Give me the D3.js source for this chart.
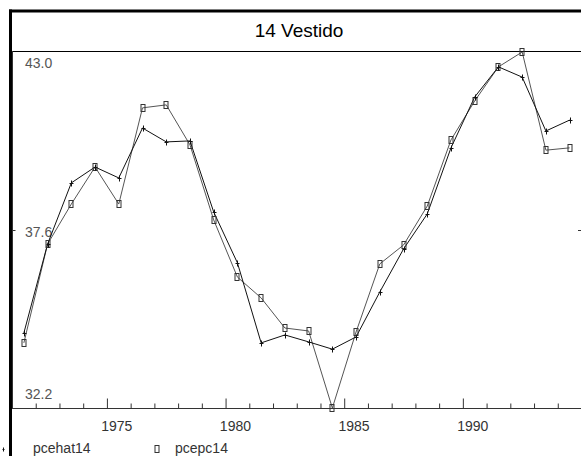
<!DOCTYPE html>
<html>
  <head>
	<meta charset="utf-8">
	<script src="https://d3js.org/d3.v7.min.js"></script>
	<style>
	  body { margin: 0; background: #fff; }
	  text { font-family: "Liberation Sans", Arial, sans-serif; }
	</style>
  </head>

<body>
	<div id="chart"></div>
  <script>
	// values
	var years = [1971, 1972, 1973, 1974, 1975, 1976, 1977, 1978, 1979, 1980, 1981, 1982,
	             1983, 1984, 1985, 1986, 1987, 1988, 1989, 1990, 1991, 1992, 1993, 1994];
	var pcehat14 = [34.47, 37.16, 39.01, 39.49, 39.16, 40.67, 40.25, 40.28, 38.13, 36.59, 34.17, 34.41,
	                34.20, 33.98, 34.35, 35.71, 37.01, 38.07, 40.07, 41.61, 42.52, 42.21, 40.58, 40.91];
	var pcepc14 = [34.17, 37.16, 38.37, 39.49, 38.37, 41.28, 41.37, 40.16, 37.89, 36.16, 35.53, 34.62,
	               34.53, 32.20, 34.50, 36.56, 37.13, 38.31, 40.31, 41.49, 42.52, 42.97, 40.00, 40.07];
	var yTicks = [32.2, 37.6, 43.0];
	var xTickLabels = [1975, 1980, 1985, 1990];
	var title = "14 Vestido";

	var W = 581, H = 456;
	var plot = {left: 12, top: 51, right: 582, bottom: 408};

	var svg = d3.select("#chart")
		.append("svg")
			.attr("width", W)
			.attr("height", H);

	var x = d3.scaleLinear()
		.domain([1971, 1995])
		.range([plot.left, plot.right - 0.5]);

	var y = d3.scaleLinear()
		.domain([32.2, 43.0])
		.range([plot.bottom, plot.top]);

	// outer heavy frame
	svg.append("line")
		.attr("x1", 9).attr("x2", W).attr("y1", 11).attr("y2", 11)
		.attr("stroke", "#000").attr("stroke-width", 3);
	svg.append("line")
		.attr("x1", 10.5).attr("x2", 10.5).attr("y1", 9.5).attr("y2", H)
		.attr("stroke", "#000").attr("stroke-width", 3);

	svg.append("text")
		.attr("x", 299).attr("y", 37)
		.attr("text-anchor", "middle")
		.attr("font-size", 19)
		.attr("fill", "#000")
		.text(title);

	// plot frame
	svg.append("line")
		.attr("x1", plot.left).attr("x2", W).attr("y1", plot.top + 0.5).attr("y2", plot.top + 0.5)
		.attr("stroke", "#000");
	svg.append("line")
		.attr("x1", plot.left + 0.5).attr("x2", plot.left + 0.5).attr("y1", plot.top).attr("y2", plot.bottom + 1)
		.attr("stroke", "#333");

	// x axis: ticks pointing up, every year, longer every 5
	var xAxis = d3.axisTop(x)
		.tickValues(d3.range(1972, 1995))
		.tickSize(5)
		.tickFormat("");
	var gx = svg.append("g")
		.attr("transform", "translate(0," + (plot.bottom + 0.5) + ")")
		.call(xAxis);
	gx.select(".domain").attr("stroke", "#333").attr("d", "M" + plot.left + ",0H" + W);
	gx.selectAll(".tick line")
		.attr("stroke", "#333")
		.attr("y2", function(d) { return d % 5 === 0 ? -10 : -5; });

	svg.selectAll(".xlab")
		.data(xTickLabels)
		.enter().append("text")
			.attr("class", "xlab")
			.attr("x", function(d) { return x(d + 0.5) - 2; })
			.attr("y", 431)
			.attr("text-anchor", "middle")
			.attr("font-size", 14)
			.attr("fill", "#333")
			.text(function(d) { return d; });

	// y ticks and labels (labels sit inside the plot)
	var yAxis = d3.axisRight(y).tickValues([37.6]).tickSize(3).tickFormat("");
	var gy = svg.append("g")
		.attr("transform", "translate(" + (plot.left + 0.5) + ",0.5)")
		.call(yAxis);
	gy.select(".domain").remove();
	gy.selectAll(".tick line").attr("stroke", "#333");
	var gyr = svg.append("g")
		.attr("transform", "translate(" + (W + 1) + ",0.5)")
		.call(d3.axisLeft(y).tickValues([37.6]).tickSize(4).tickFormat(""));
	gyr.select(".domain").remove();
	gyr.selectAll(".tick line").attr("stroke", "#333");

	var labelBase = {"32.2": -9, "37.6": 7, "43.0": 17};
	svg.selectAll(".ylab")
		.data(yTicks)
		.enter().append("text")
			.attr("class", "ylab")
			.attr("x", 25)
			.attr("y", function(d) { return y(d) + labelBase[d.toFixed(1)]; })
			.attr("font-size", 14)
			.attr("fill", "#555")
			.text(function(d) { return d.toFixed(1); });

	var hat = years.map(function(t, i) { return {year: t, v: pcehat14[i]}; });
	var pc = years.map(function(t, i) { return {year: t, v: pcepc14[i]}; });

	var line = d3.line()
		.x(function(d) { return x(d.year + 0.5); })
		.y(function(d) { return y(d.v); });

	svg.append("path")
		.datum(pc)
		.attr("fill", "none")
		.attr("stroke", "#555")
		.attr("stroke-width", 1)
		.attr("d", line);

	svg.append("path")
		.datum(hat)
		.attr("fill", "none")
		.attr("stroke", "#111")
		.attr("stroke-width", 1)
		.attr("d", line);

	// markers
	svg.selectAll(".sq")
		.data(pc)
		.enter().append("rect")
			.attr("class", "sq")
			.attr("x", function(d) { return Math.round(x(d.year + 0.5)) - 2; })
			.attr("y", function(d) { return Math.round(y(d.v)) - 3.5; })
			.attr("width", 4).attr("height", 7)
			.attr("fill", "none")
			.attr("stroke", "#333");

	var plus = function(sel, size) {
		sel.append("path")
			.attr("fill", "none")
			.attr("stroke", "#111")
			.attr("d", function(d) {
				var cx = Math.round(d.px) + 0.5, cy = Math.round(d.py) + 0.5;
				return "M" + (cx - size) + "," + cy + "H" + (cx + size) +
					"M" + cx + "," + (cy - size - 1) + "V" + (cy + size + 1);
			});
	};
	svg.selectAll(".pl")
		.data(hat.map(function(d) { return {px: x(d.year + 0.5), py: y(d.v)}; }))
		.enter().append("g")
			.attr("class", "pl")
			.call(plus, 2);

	// legend
	var legend = svg.append("g");
	legend.selectAll("g.lp")
		.data([{px: 3, py: 449}])
		.enter().append("g").attr("class", "lp")
		.call(plus, 1);
	legend.append("text")
		.attr("x", 33).attr("y", 453)
		.attr("font-size", 14).attr("fill", "#333")
		.text("pcehat14");
	legend.append("rect")
		.attr("x", 155).attr("y", 445.5)
		.attr("width", 4).attr("height", 7)
		.attr("fill", "none").attr("stroke", "#333");
	legend.append("text")
		.attr("x", 175).attr("y", 453)
		.attr("font-size", 14).attr("fill", "#333")
		.text("pcepc14");
  </script>
</body>
</html>
